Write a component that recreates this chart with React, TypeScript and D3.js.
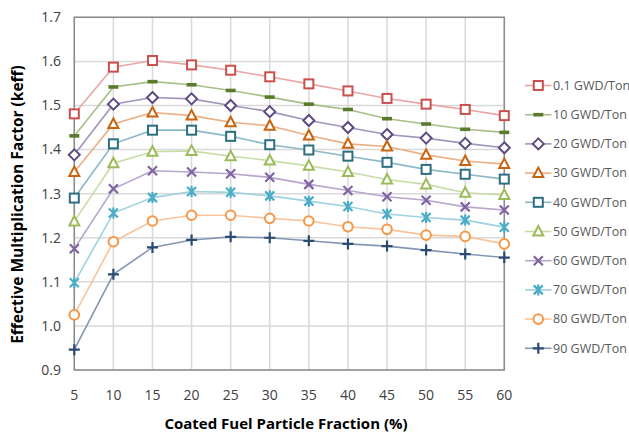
import React from "react";
import * as d3 from "d3";

const fractions = [5, 10, 15, 20, 25, 30, 35, 40, 45, 50, 55, 60];
const seriesNames = [
  "0.1 GWD/Ton", "10 GWD/Ton", "20 GWD/Ton", "30 GWD/Ton", "40 GWD/Ton",
  "50 GWD/Ton", "60 GWD/Ton", "70 GWD/Ton", "80 GWD/Ton", "90 GWD/Ton",
];
const s01 = [1.481, 1.587, 1.602, 1.592, 1.580, 1.565, 1.549, 1.533, 1.516, 1.503, 1.491, 1.477];
const s10 = [1.431, 1.542, 1.554, 1.547, 1.534, 1.519, 1.503, 1.491, 1.470, 1.458, 1.446, 1.439];
const s20 = [1.388, 1.503, 1.518, 1.515, 1.500, 1.486, 1.466, 1.450, 1.434, 1.426, 1.414, 1.404];
const s30 = [1.349, 1.458, 1.484, 1.477, 1.462, 1.454, 1.432, 1.413, 1.407, 1.388, 1.374, 1.367];
const s40 = [1.290, 1.413, 1.444, 1.444, 1.430, 1.411, 1.399, 1.385, 1.371, 1.355, 1.344, 1.333];
const s50 = [1.237, 1.369, 1.395, 1.397, 1.385, 1.375, 1.363, 1.349, 1.332, 1.321, 1.302, 1.297];
const s60 = [1.175, 1.311, 1.352, 1.349, 1.345, 1.337, 1.321, 1.307, 1.293, 1.285, 1.270, 1.263];
const s70 = [1.098, 1.256, 1.291, 1.305, 1.303, 1.295, 1.283, 1.271, 1.254, 1.246, 1.240, 1.224];
const s80 = [1.025, 1.191, 1.238, 1.251, 1.251, 1.244, 1.238, 1.225, 1.219, 1.206, 1.203, 1.186];
const s90 = [0.946, 1.117, 1.178, 1.195, 1.202, 1.200, 1.193, 1.186, 1.181, 1.172, 1.163, 1.155];
const seriesValues = [s01, s10, s20, s30, s40, s50, s60, s70, s80, s90];
const yTicks = [0.9, 1.0, 1.1, 1.2, 1.3, 1.4, 1.5, 1.6, 1.7];

const markerColors = ["#C9504D", "#5B7B2C", "#5D4A80", "#C8640F", "#2C6E82", "#9BBB59", "#8064A2", "#4BACC6", "#F79646", "#2A4A72"];
const lineColors = ["#E8A6A5", "#A7BF88", "#A095BD", "#EBAF84", "#8BB8C6", "#C9DCA6", "#B7A6CD", "#9ED2E1", "#F9C49B", "#8497B3"];
const markerTypes = ["square", "dash", "diamond", "triangle", "square", "triangle", "x", "star", "circle", "plus"];

const W = 629, H = 434;
const left = 74.3, right = 504.3, top = 17.3, bottom = 370;

function Marker({ type, x, y, color }: { type: string; x: number; y: number; color: string }) {
  const sw = 2;
  switch (type) {
    case "square":
      return <rect x={x - 4.5} y={y - 4.5} width={9} height={9} fill="#fff" stroke={color} strokeWidth={sw} />;
    case "dash":
      return <rect x={x - 5} y={y - 1.8} width={10} height={3.6} fill={color} />;
    case "diamond":
      return <path d={`M${x},${y - 5.5}L${x + 5.5},${y}L${x},${y + 5.5}L${x - 5.5},${y}Z`} fill="#fff" stroke={color} strokeWidth={sw} />;
    case "triangle":
      return <path d={`M${x},${y - 5.5}L${x + 5},${y + 4}L${x - 5},${y + 4}Z`} fill="#fff" stroke={color} strokeWidth={sw} />;
    case "circle":
      return <circle cx={x} cy={y} r={4.8} fill="#fff" stroke={color} strokeWidth={sw} />;
    case "x":
      return <path d={`M${x - 4.5},${y - 4.5}L${x + 4.5},${y + 4.5}M${x - 4.5},${y + 4.5}L${x + 4.5},${y - 4.5}`} stroke={color} strokeWidth={2.2} />;
    case "star":
      return <path d={`M${x - 4.5},${y - 4.5}L${x + 4.5},${y + 4.5}M${x - 4.5},${y + 4.5}L${x + 4.5},${y - 4.5}M${x},${y - 5.5}L${x},${y + 5.5}`} stroke={color} strokeWidth={2.2} />;
    case "plus":
      return <path d={`M${x - 5.5},${y}L${x + 5.5},${y}M${x},${y - 5.5}L${x},${y + 5.5}`} stroke={color} strokeWidth={2.2} />;
  }
  return null;
}

export default function App() {
  const x = d3.scaleLinear().domain([5, 60]).range([left, right]);
  const y = d3.scaleLinear().domain([0.9, 1.7]).range([bottom, top]);
  const line = d3.line<number>().x((_, i) => x(fractions[i])).y((d) => y(d));
  const font = "'Open Sans', sans-serif";
  return (
    <svg width={W} height={H} style={{ position: "absolute", left: 0, top: 0, background: "#fff" }} fontFamily={font}>
      {fractions.map((f) => (
        <line key={"vx" + f} x1={x(f)} x2={x(f)} y1={top} y2={bottom} stroke="#D9D9D9" strokeWidth={1.5} />
      ))}
      {yTicks.map((t) => (
        <line key={"hy" + t} x1={left} x2={right} y1={y(t)} y2={y(t)} stroke="#D9D9D9" strokeWidth={1.5} />
      ))}
      <rect x={left} y={top} width={right - left} height={bottom - top} fill="none" stroke="#8C8C8C" strokeWidth={1.5} />
      {yTicks.map((t) => (
        <text key={"yl" + t} x={61} y={y(t)} dy="0.35em" textAnchor="end" fontSize={14} fill="#404040">{t.toFixed(1)}</text>
      ))}
      {fractions.map((f) => (
        <text key={"xl" + f} x={x(f)} y={395} dy="0.35em" textAnchor="middle" fontSize={14} fill="#404040">{f}</text>
      ))}
      {seriesValues.map((vals, si) => (
        <path key={"l" + si} d={line(vals) || ""} fill="none" stroke={lineColors[si]} strokeWidth={1.6} />
      ))}
      {seriesValues.map((vals, si) => (
        <g key={"m" + si}>
          {vals.map((v, i) => (
            <Marker key={i} type={markerTypes[si]} x={x(fractions[i])} y={y(v)} color={markerColors[si]} />
          ))}
        </g>
      ))}
      {seriesNames.map((name, si) => {
        const ly = 85.5 + si * 29.2;
        return (
          <g key={"lg" + si}>
            <line x1={525} x2={551.5} y1={ly} y2={ly} stroke={lineColors[si]} strokeWidth={1.6} />
            <Marker type={markerTypes[si]} x={538.3} y={ly} color={markerColors[si]} />
            <text x={553} y={ly} dy="0.35em" fontSize={12.5} fill="#595959">{name}</text>
          </g>
        );
      })}
      <text transform={`translate(18,204.5) rotate(-90)`} textAnchor="middle" dy="0.35em" fontSize={15.5} fontWeight="bold" fill="#000">
        Effective Multiplication Factor (keff)
      </text>
      <text x={286} y={424} dy="0.35em" textAnchor="middle" fontSize={15} fontWeight="bold" fill="#000">
        Coated Fuel Particle Fraction (%)
      </text>
    </svg>
  );
}
